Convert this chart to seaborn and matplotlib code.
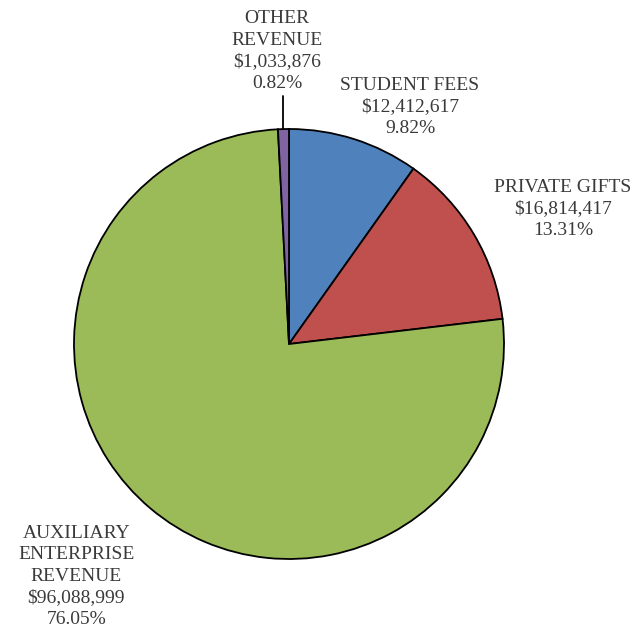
import matplotlib
matplotlib.use("Agg")
import matplotlib.pyplot as plt
import seaborn as sns

# Revenue data (clockwise from 12 o'clock)
categories = ["STUDENT FEES", "PRIVATE GIFTS", "AUXILIARY\nENTERPRISE\nREVENUE", "OTHER\nREVENUE"]
amounts = [12412617, 16814417, 96088999, 1033876]
slice_colors = ["#4F81BD", "#C0504D", "#9BBB59", "#8064A2"]

# label anchor positions in pie units (radius = 1)
label_pos = [(0.563, 1.102), (1.274, 0.628), (-0.99, -1.08), (-0.056, 1.363)]

sns.set_theme(style="white")
plt.rcParams['font.family'] = ['Liberation Serif', 'DejaVu Serif']

fig = plt.figure(figsize=(6.39, 6.32), dpi=100)
ax = fig.add_axes([74 / 639, 73 / 632, 430 / 639, 430 / 632])

palette = sns.color_palette(slice_colors)
ax.pie(amounts, colors=palette, startangle=90, counterclock=False, radius=1,
       wedgeprops=dict(edgecolor="black", linewidth=1.3))
ax.set_xlim(-1, 1)
ax.set_ylim(-1, 1)
ax.set_aspect("equal")
ax.axis("off")

total = sum(amounts)
for name, val, (x, y) in zip(categories, amounts, label_pos):
    txt = f"{name}\n${val:,}\n{val / total * 100:.2f}%"
    ax.text(x, y, txt, ha="center", va="center", fontsize=14, color="#3a3a3a",
            linespacing=1.35, clip_on=False)

# leader line for the small slice
ax.plot([-0.028, -0.028], [1.153, 0.998], color="black", lw=1.3, clip_on=False)

fig.savefig("out.png", dpi=100, facecolor="white")
